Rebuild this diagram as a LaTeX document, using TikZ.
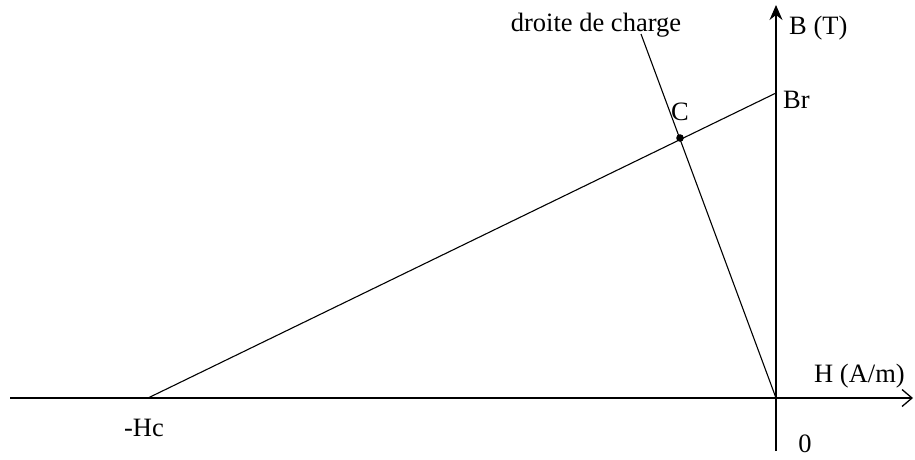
\documentclass[tikz,border=0pt]{standalone}
\usepackage{fontspec}
\setmainfont{Liberation Serif}
\usetikzlibrary{arrows.meta}
\begin{document}
\begin{tikzpicture}[x=1pt,y=-1pt,
  lbl/.style={inner sep=0pt,font=\fontsize{26.5}{30}\selectfont},
  ln/.style={line width=1.1pt,black}]
\useasboundingbox (0,0) rectangle (915,459);
\coordinate (O) at (776,398);
\coordinate (Br) at (776,93);
\coordinate (Hc) at (148,398);
\coordinate (C) at (680,138);
\coordinate (Ltop) at (641,34);
\coordinate (Hl) at (10,398);
\coordinate (Hr) at (913,398);
\coordinate (Bb) at (776,451);
\coordinate (Bt) at (776,5);
\draw[ln,-{Straight Barb[length=10pt,width=17pt,line width=1.3pt]}] (Hl) -- (Hr);
\draw[ln,-{Stealth[length=15pt,width=13pt,inset=5pt]}] (Bb) -- (Bt);
\draw[ln] (Hc) -- (Br);
\draw[ln] (O) -- (Ltop);
\fill (C) circle (3.8);
\node[lbl,anchor=west] (lB) at (789,28) {B (T)};
\node[lbl,anchor=west] (lBr) at (783,100) {Br};
\node[lbl,anchor=west] (lH) at (814,376) {H (A/m)};
\node[lbl] (l0) at (805,444) {0};
\node[lbl] (lHc) at (144,428) {-Hc};
\node[lbl] (ldc) at (596,25) {droite de charge};
\node[lbl] (lC) at (680,112) {C};
\end{tikzpicture}
\end{document}
